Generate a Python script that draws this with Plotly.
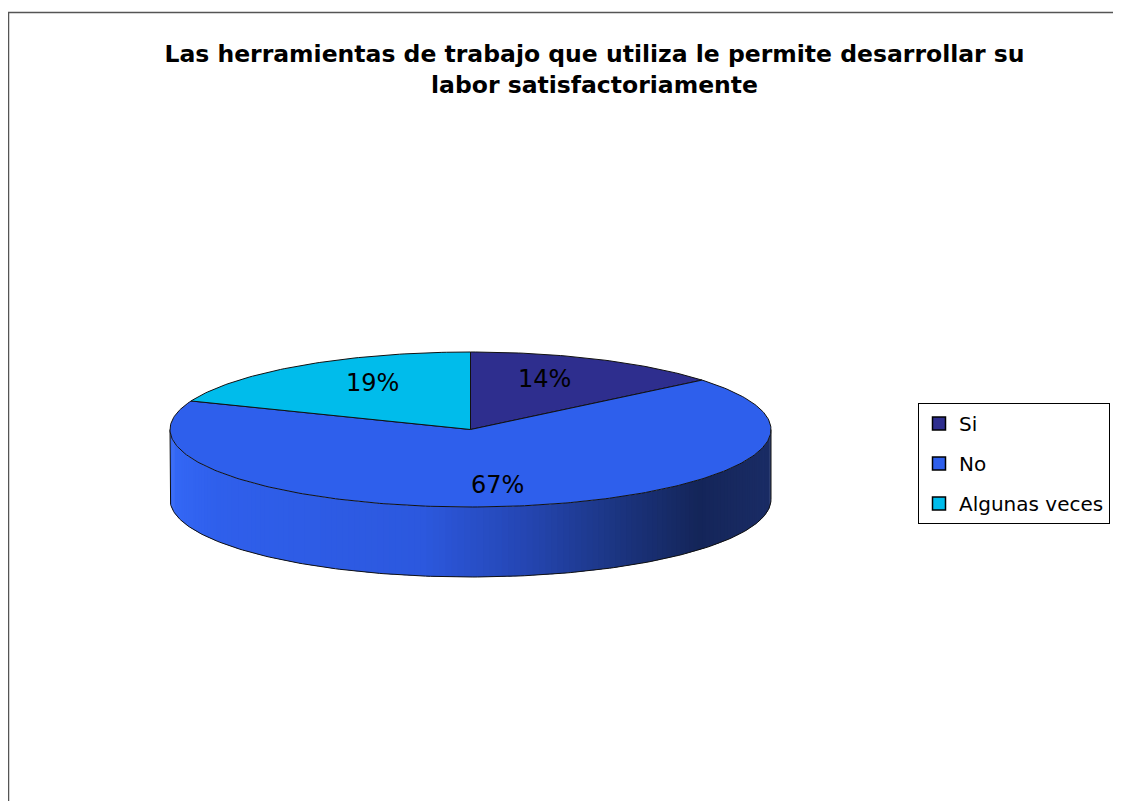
import numpy as np
import plotly.graph_objects as go

# ---------------- data ----------------
categories = ["Si", "No", "Algunas veces"]
values = [14, 67, 19]
title_lines = ["Las herramientas de trabajo que utiliza le permite desarrollar su",
               "labor satisfactoriamente"]

# ---------------- style ----------------
W, H = 1121, 801
OFF = 8  # page body margin
top_colors = ["#2E2E8E", "#2E5FEC", "#00BCEB"]
legend_colors = ["#2E2E8E", "#2E5FEC", "#00BCEB"]
side_stops = [(0.0, "#3468F6"), (0.08, "#2F5FEB"), (0.42, "#2C58DE"), (0.6, "#2445B0"),
              (0.75, "#1B347F"), (0.88, "#142559"), (1.0, "#1A2C65")]
FONT = "DejaVu Sans, Verdana, sans-serif"
cx, cy, rx, ry, depth = 470.5, 429.5, 300.5, 77.5, 70.0
label_fx, label_fy = 0.58, 0.72


def hex2rgb(h):
    h = h.lstrip("#")
    return np.array([int(h[i:i + 2], 16) for i in (0, 2, 4)], dtype=float)


def grad(t):
    for (t0, c0), (t1, c1) in zip(side_stops[:-1], side_stops[1:]):
        if t <= t1:
            f = 0 if t1 == t0 else (t - t0) / (t1 - t0)
            c = hex2rgb(c0) * (1 - f) + hex2rgb(c1) * f
            return "rgb(%d,%d,%d)" % tuple(np.round(c))
    return side_stops[-1][1]


def ell(theta, dy=0.0):
    return cx + rx * np.sin(theta), cy - ry * np.cos(theta) + dy


fig = go.Figure()

# ---- side wall (front half of the cylinder), gradient strips (overlapping) ----
n_strips = 150
phis = np.linspace(3 * np.pi / 2, np.pi / 2, n_strips + 1)
step = phis[1] - phis[0]
for i in range(n_strips):
    a0 = phis[i]
    a1 = phis[i + 1] + (step * 0.6 if i < n_strips - 1 else 0)
    a = np.linspace(a0, a1, 4)
    xt, yt = ell(a)
    xb, yb = ell(a[::-1], depth)
    xs = np.concatenate([xt, xb, xt[:1]])
    ys = np.concatenate([yt, yb, yt[:1]])
    t = (np.mean(ell(np.linspace(phis[i], phis[i + 1], 3))[0]) - (cx - rx)) / (2 * rx)
    col = grad(t)
    fig.add_trace(go.Scatter(x=xs, y=ys, mode="lines", fill="toself", fillcolor=col,
                             line=dict(color=col, width=0), hoverinfo="skip",
                             showlegend=False))

# side outline
a = np.linspace(3 * np.pi / 2, np.pi / 2, 200)
xb, yb = ell(a, depth)
xt0, yt0 = ell(np.array([3 * np.pi / 2]))
xt1, yt1 = ell(np.array([np.pi / 2]))
fig.add_trace(go.Scatter(x=np.concatenate([xt0, xb, xt1]), y=np.concatenate([yt0, yb, yt1]),
                         mode="lines", line=dict(color="#111", width=1), hoverinfo="skip",
                         showlegend=False))

# ---- top face slices ----
total = sum(values)
start = 0.0
label_pos = []
for cat, v, col in zip(categories, values, top_colors):
    span = 2 * np.pi * v / total
    a = np.linspace(start, start + span, max(int(v * 4), 10))
    x, y = ell(a)
    xs = np.concatenate([[cx], x, [cx]])
    ys = np.concatenate([[cy], y, [cy]])
    fig.add_trace(go.Scatter(x=xs, y=ys, mode="lines", fill="toself", fillcolor=col,
                             line=dict(color="#111", width=1), name=cat,
                             hoverinfo="name", showlegend=False))
    mid = start + span / 2
    label_pos.append((cx + label_fx * rx * np.sin(mid), cy - label_fy * ry * np.cos(mid)))
    start += span

# ---- labels ----
for (lx, ly), v in zip(label_pos, values):
    fig.add_annotation(x=lx, y=ly, xref="x", yref="y", text="%d%%" % round(100 * v / total),
                       showarrow=False, font=dict(family=FONT, size=24, color="black"))

# ---- legend entries ----
for i, (cat, col) in enumerate(zip(categories, legend_colors)):
    fig.add_trace(go.Scatter(x=[None], y=[None], mode="markers", name=cat, legendgroup=str(i),
                             marker=dict(symbol="square", size=13, color=col,
                                         line=dict(color="black", width=1.5))))

# outer border
fig.add_shape(type="rect", xref="x", yref="y", x0=8.5, y0=12.5, x1=W + 5, y1=H + 5,
              line=dict(color="#555", width=1.5), fillcolor="rgba(0,0,0,0)")

PW, PH = W - OFF, H - OFF
fig.update_layout(
    width=PW, height=PH,
    margin=dict(l=0, r=0, t=0, b=0),
    paper_bgcolor="white", plot_bgcolor="white",
    xaxis=dict(range=[OFF, W], visible=False, fixedrange=True),
    yaxis=dict(range=[H, OFF], visible=False, fixedrange=True),
    title=dict(text="<br>".join(title_lines), x=(594.5 - OFF) / PW, xanchor="center",
               y=1 - (62 - OFF) / PH, yanchor="top", yref="container",
               font=dict(family=FONT, size=23.5, color="black", weight="bold")),
    legend=dict(x=(918 - OFF) / PW, y=1 - (403 - OFF) / PH, xanchor="left", yanchor="top",
                bordercolor="black", borderwidth=1, bgcolor="white",
                font=dict(family=FONT, size=20, color="black"),
                traceorder="grouped", tracegroupgap=11),
    showlegend=True,
)

fig.write_html("out.html")
